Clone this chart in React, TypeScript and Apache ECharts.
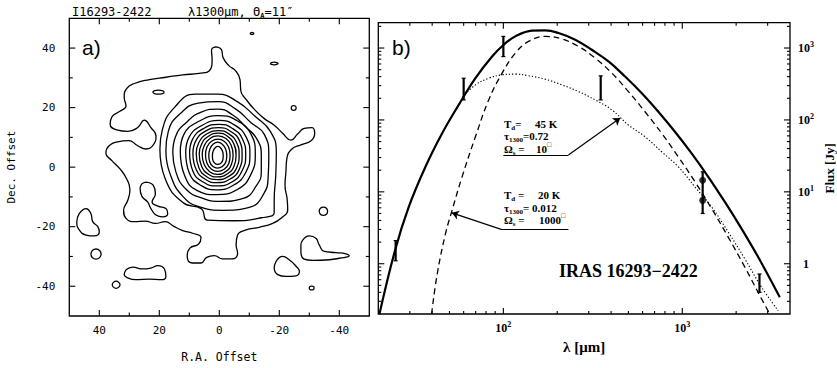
import React, { useEffect, useRef } from 'react';
import * as echarts from 'echarts';

// ---------------- Panel a: 1300 µm contour map (R.A. offset, Dec. offset in arcsec) ----------------
const ring1 = [[2.3,4.0],[2.0,5.5],[1.3,6.6],[0.5,7.0],[-0.3,6.6],[-1.0,5.5],[-1.3,4.0],[-1.2,2.5],[-0.5,1.3],[0.5,0.9],[1.5,1.3],[2.2,2.5]];
const ring2 = [[3.5,4.0],[3.1,6.2],[2.0,7.8],[0.5,8.4],[-1.0,7.7],[-2.1,6.1],[-2.5,3.9],[-2.2,1.8],[-1.0,0.2],[0.6,-0.3],[2.1,0.2],[3.2,1.8]];
const ring3 = [[4.6,4.2],[4.1,6.8],[2.6,8.7],[0.4,9.4],[-1.6,8.7],[-3.1,6.8],[-3.6,4.0],[-3.2,1.3],[-1.6,-0.7],[0.6,-1.4],[2.6,-0.7],[4.1,1.3]];
const ring4 = [[5.7,4.3],[5.0,7.3],[3.1,9.6],[0.4,10.5],[-2.2,9.6],[-4.0,7.3],[-4.6,4.0],[-4.0,0.8],[-2.1,-1.5],[0.6,-2.4],[3.1,-1.6],[5.0,0.8]];
const ring5 = [[6.7,4.4],[5.9,7.8],[3.6,10.4],[0.3,11.4],[-2.7,10.4],[-4.9,7.7],[-5.6,4.1],[-4.9,0.3],[-2.6,-2.3],[0.6,-3.3],[3.6,-2.4],[5.9,0.3]];
const ring6 = [[7.7,4.6],[6.8,8.3],[4.1,11.2],[0.2,12.3],[-3.3,11.1],[-5.8,8.2],[-6.6,4.2],[-5.8,-0.2],[-3.1,-3.1],[0.7,-4.2],[4.2,-3.2],[6.8,-0.2]];
const ring7 = [[8.8,4.6],[7.8,8.9],[4.6,12.1],[0.2,13.3],[-3.8,12.0],[-6.8,8.7],[-7.6,4.2],[-6.7,-0.6],[-3.6,-4.0],[0.8,-5.2],[4.8,-4.0],[7.7,-0.8]];
const ring8 = [[9.9,4.8],[8.9,9.4],[5.2,13.0],[0.1,14.4],[-4.4,13.0],[-7.8,9.3],[-8.8,4.3],[-7.6,-1.2],[-4.2,-5.0],[0.9,-6.3],[5.4,-5.0],[8.8,-1.4]];
const ring9 = [[11.2,5.0],[10.1,10.0],[5.8,14.0],[0.0,15.7],[-5.0,14.2],[-9.0,10.0],[-10.2,4.4],[-8.8,-1.8],[-4.8,-6.0],[1.0,-7.6],[6.0,-6.2],[10.0,-2.0]];
const ring10 = [[13.0,5.2],[11.8,11.0],[6.6,15.5],[0.5,17.3],[-5.6,15.8],[-10.6,11.0],[-12.0,4.5],[-10.5,-2.5],[-6.0,-7.5],[1.0,-9.2],[7.5,-7.8],[11.5,-3.0]];
const ring11 = [[15.5,5],[14.5,10.5],[11,15],[6,18.5],[0.5,19.5],[-4.5,17.5],[-8.8,13.5],[-12.5,9.5],[-14.0,4],[-14,-1.5],[-12.5,-6],[-8,-10.5],[0,-11.5],[5.5,-10.5],[11,-7.5],[14.5,-1.5]];
const ring12 = [[17.8,5.5],[17,12],[13,18],[7,21.5],[0.5,22],[-5.5,19.5],[-10.5,15],[-15,11],[-16.5,4],[-16.3,-3],[-14.8,-9],[-10,-13.5],[-1,-14.5],[6,-13.5],[12,-10],[16.5,-2]];
const ring13 = [[19.8,6],[19,12.5],[15,20],[8,24.5],[0.5,24.5],[-6,22],[-12,17],[-17,12],[-19,5],[-18.8,-3],[-18.3,-11],[-18.3,-15.3],[-14,-17],[-5,-18],[4,-17.8],[6,-14],[12,-12],[18,-4]];
const outerContour = [[1.3,40.4],[-0.7,39.5],[-1.3,36.7],[-3.1,34.2],[-5.6,32.2],[-6.9,29.4],[-7.2,25.5],[-8.9,22.8],[-11.7,19.4],[-15.0,16.3],[-18.3,14.1],[-21.1,11.4],[-23.9,9.1],[-26.1,11.1],[-28.3,13.0],[-30.9,13.3],[-31.8,11.3],[-30.6,8.9],[-27.2,7.5],[-24.2,6.1],[-22.5,2.8],[-22.2,-1.7],[-21.9,-6.1],[-22.6,-10.6],[-22.8,-14.5],[-20.9,-16.9],[-17.8,-18.9],[-13.3,-20.2],[-8.9,-21.1],[-6.1,-22.8],[-5.6,-26.1],[-6.1,-28.9],[-4.2,-30.8],[-1.1,-30.8],[1.7,-29.7],[4.2,-30.3],[6.1,-32.2],[9.1,-32.2],[10.7,-29.8],[9.8,-27.2],[6.9,-25.8],[6.1,-23.6],[8.9,-22.2],[12.2,-21.3],[15.3,-19.8],[18.0,-18.3],[21.3,-18.9],[24.7,-18.1],[28.3,-18.3],[31.1,-17.2],[31.9,-14.5],[30.5,-11.1],[29.8,-7.6],[30.9,-3.9],[33.1,-0.6],[35.8,2.2],[37.8,4.7],[36.9,7.0],[33.9,8.5],[30.2,8.9],[27.2,7.2],[24.4,6.1],[22.0,7.5],[21.1,10.5],[22.8,13.3],[25.0,15.8],[27.2,13.3],[30.5,12.0],[34.2,12.5],[36.4,14.4],[35.8,16.9],[33.3,18.7],[31.1,20.5],[31.7,23.5],[30.9,26.4],[28.3,28.1],[23.3,29.4],[17.8,30.2],[12.2,31.0],[6.7,31.5],[3.3,32.4],[2.4,36.1],[2.6,39.3]];
const lobeLeft = [[46.7,-15.6],[44.4,-13.9],[42.8,-15.6],[42.2,-18.3],[40.5,-20.0],[40.0,-21.7],[41.7,-23.1],[44.4,-22.8],[46.7,-21.1],[47.5,-18.3]];
const blobBottom = [[31.1,-34.5],[28.9,-33.6],[25.5,-34.2],[22.8,-33.9],[20.5,-33.1],[18.3,-34.2],[17.8,-36.7],[19.4,-37.8],[23.3,-37.6],[27.8,-37.8],[30.5,-37.2],[31.7,-36.1]];
const blobBottomRight = [[-18.9,-31.7],[-21.1,-30.0],[-23.3,-31.1],[-25.6,-33.3],[-26.7,-35.0],[-25.6,-36.5],[-22.2,-36.7],[-19.5,-36.1],[-18.3,-33.9]];
const blobRight = [[-27.8,-24.5],[-30.0,-23.1],[-32.2,-23.9],[-33.3,-26.1],[-35.0,-28.3],[-38.9,-28.7],[-42.2,-29.1],[-43.3,-29.8],[-40.0,-30.6],[-36.7,-31.1],[-31.1,-31.3],[-28.3,-30.9],[-27.2,-28.3],[-27.2,-26.1]];
const figureEight = [[24.4,-5.0],[22.0,-6.1],[21.3,-8.9],[22.4,-11.7],[20.5,-13.1],[17.8,-13.9],[17.2,-15.6],[18.9,-16.7],[21.1,-16.1],[22.8,-13.9],[23.9,-11.7],[25.8,-9.8],[26.4,-7.2],[25.8,-5.6]];
const islet1 = [[-10.3,44.9],[-10.5,45.15],[-10.9,45.25],[-11.3,45.15],[-11.5,44.9],[-11.3,44.65],[-10.9,44.55],[-10.5,44.65]];
const islet2 = [[-17.0,34.8],[-17.4,35.1],[-18.3,35.25],[-19.2,35.1],[-19.6,34.8],[-19.2,34.5],[-18.3,34.35],[-17.4,34.5]];
const islet3 = [[22.2,25.2],[21.6,25.7],[20.3,25.9],[19.0,25.7],[18.4,25.2],[19.0,24.7],[20.3,24.5],[21.6,24.7]];
const islet4 = [[-24.0,19.9],[-24.2,20.5],[-24.8,20.7],[-25.4,20.5],[-25.6,19.9],[-25.4,19.3],[-24.8,19.1],[-24.2,19.3]];
const islet5 = [[-33.3,-14.8],[-33.7,-13.8],[-34.7,-13.4],[-35.7,-13.8],[-36.1,-14.8],[-35.7,-15.8],[-34.7,-16.2],[-33.7,-15.8]];
const islet6 = [[42.8,-29.2],[42.3,-28.0],[41.1,-27.5],[39.9,-28.0],[39.4,-29.2],[39.9,-30.4],[41.1,-30.9],[42.3,-30.4]];
const islet7 = [[35.7,-39.5],[35.3,-38.7],[34.4,-38.3],[33.5,-38.7],[33.1,-39.5],[33.5,-40.3],[34.4,-40.7],[35.3,-40.3]];
const islet8 = [[-30.0,-40.6],[-30.2,-40.1],[-30.8,-39.95],[-31.4,-40.1],[-31.6,-40.6],[-31.4,-41.1],[-30.8,-41.25],[-30.2,-41.1]];

const contours = [outerContour, ring13, ring12, ring11, ring10, ring9, ring8, ring7, ring6, ring5, ring4, ring3, ring2, ring1,
  lobeLeft, blobBottom, blobBottomRight, blobRight, figureEight, islet1, islet2, islet3, islet4, islet5, islet6, islet7, islet8];

const raTicks = [-40, -30, -20, -10, 0, 10, 20, 30, 40];
const decTicks = [-40, -30, -20, -10, 0, 10, 20, 30, 40];

// ---------------- Panel b: spectral energy distribution ----------------
const lamSolid = [20.3, 24.8, 29.6, 36.7, 45.5, 56.3, 69.8, 86.5, 100.4, 116.7, 144.6, 171.5, 203.3, 252, 312, 387, 479, 594, 735, 910, 1128, 1397, 1730, 2143, 2655, 3508];
const fluxSolid = [0.2, 1.53, 6.16, 22.3, 65.2, 162, 381, 763, 1112, 1452, 1742, 1759, 1618, 1306, 946, 650, 401, 235, 130, 68.6, 34.3, 16.2, 7.23, 3.08, 1.24, 0.342];
const lamDash = [39.7, 42.7, 47.5, 51.7, 58.8, 69.8, 82.8, 98.4, 116.7, 138.4, 171.5, 212.5, 263, 326, 404, 500, 619, 767, 950, 1178, 1459, 1806, 2237, 2773, 3085];
const fluxDash = [0.2, 0.725, 2.62, 5.54, 16.2, 58.4, 190, 448, 851, 1236, 1452, 1335, 1052, 725, 448, 248, 130, 65.2, 30.7, 13.8, 5.85, 2.35, 0.897, 0.325, 0.2];
const lamDot = [59.3, 69.8, 82.8, 98.4, 116.7, 138.4, 171.5, 212.5, 263, 326, 404, 500, 619, 767, 950, 1178, 1459, 1806, 2237, 2773, 3436];
const fluxDot = [211, 307, 381, 424, 434, 411, 369, 307, 248, 190, 138, 85.1, 58.4, 36.1, 22.3, 11.7, 6.16, 2.76, 1.17, 0.472, 0.223];

const obsLam = [25, 60, 100, 350, 1300, 2700];
const obsLo = [1.1, 190, 760, 190, 5.0, 0.40];
const obsHi = [2.1, 380, 1450, 410, 19, 0.72];
const dotLam = [1300, 1300];
const dotFlux = [14.5, 7.6];

const lamMajor = [100, 1000];
const lamMinor = [30, 40, 50, 60, 70, 80, 90, 200, 300, 400, 500, 600, 700, 800, 900, 2000, 3000];
const fluxMajor = [1, 10, 100, 1000];
const fluxMinor = [0.3, 0.4, 0.5, 0.6, 0.7, 0.8, 0.9, 2, 3, 4, 5, 6, 7, 8, 9, 20, 30, 40, 50, 60, 70, 80, 90, 200, 300, 400, 500, 600, 700, 800, 900, 2000];

// annotation anchors (λ, flux)
const note45Under = [[100, 32.5], [231, 32.5]];
const note45Arrow = [[231, 32.5], [450, 106]];
const note20Under = [[98.3, 2.98], [231, 2.98]];
const note20Arrow = [[98.3, 2.98], [51.5, 5.1]];

const LAM_MIN = 20, LAM_MAX = 4000, F_MIN = 0.2, F_MAX = 2250;

const MONO = '"DejaVu Sans Mono", monospace';
const SERIF = '"Liberation Serif", "Times New Roman", serif';
const NARROW = '"Liberation Sans Narrow", "Liberation Sans", sans-serif';

function seg(x1: number, y1: number, x2: number, y2: number, w = 1.1) {
  return { type: 'line', shape: { x1, y1, x2, y2 }, style: { stroke: '#000', lineWidth: w } };
}

function logFmt(v: number) {
  const lv = Math.log10(v);
  const e = Math.round(lv);
  if (Math.abs(lv - e) > 1e-6) return '';
  if (e === 0) return '1';
  return '10{sup|' + e + '}';
}

function aFmt(v: number) {
  if (Math.abs(v) % 20 !== 0 || Math.abs(v) === 50) return '';
  return v < 0 ? '-' + (-v) : String(v);
}

function buildOption(): any {
  const supRich = { sup: { fontFamily: SERIF, fontWeight: 'bold', fontSize: 8, color: '#000', verticalAlign: 'top' } };
  const contourSeries = contours.map((c) => ({
    type: 'line', xAxisIndex: 0, yAxisIndex: 0, data: [...c, c[0]], smooth: 0.5, symbol: 'none', silent: true,
    lineStyle: { color: '#000', width: 1.3 }, clip: true,
  }));
  const richSmall = (fam: string) => ({
    sub: { fontFamily: fam, fontWeight: 'bold', fontSize: 7, fill: '#000', verticalAlign: 'bottom' },
    sup: { fontFamily: fam, fontWeight: 'bold', fontSize: 7, fill: '#000', verticalAlign: 'top' },
  });
  const note = (x: number, y: number, text: string) => ({
    type: 'text', x, y, silent: true,
    style: { text, fontFamily: SERIF, fontWeight: 'bold', fontSize: 11, lineHeight: 15, fill: '#000', verticalAlign: 'middle', rich: richSmall(SERIF) },
  });
  return {
    animation: false,
    backgroundColor: '#fff',
    grid: [
      { left: 69.3, top: 18.3, width: 300, height: 300, show: true, borderColor: '#000', borderWidth: 1.3, backgroundColor: 'transparent' },
      { left: 378.3, top: 22.7, width: 413.4, height: 291.3, show: true, borderColor: '#000', borderWidth: 1.3, backgroundColor: 'transparent' },
    ],
    xAxis: [
      {
        gridIndex: 0, type: 'value', min: -50, max: 50, interval: 10, inverse: true, position: 'bottom',
        axisLine: { show: false }, axisTick: { show: false }, splitLine: { show: false },
        axisLabel: { formatter: aFmt, margin: 9, color: '#000', fontFamily: MONO, fontSize: 11 },
        name: 'R.A. Offset', nameLocation: 'middle', nameGap: 35,
        nameTextStyle: { color: '#000', fontFamily: MONO, fontSize: 11.5 },
      },
      {
        gridIndex: 1, type: 'log', logBase: 10, min: LAM_MIN, max: LAM_MAX, position: 'bottom',
        axisLine: { show: false }, axisTick: { show: false }, splitLine: { show: false }, minorTick: { show: false },
        axisLabel: { formatter: logFmt, margin: 6, color: '#000', fontFamily: SERIF, fontWeight: 'bold', fontSize: 12, lineHeight: 15, rich: supRich, showMinLabel: false, showMaxLabel: false },
        name: 'λ [μm]', nameLocation: 'middle', nameGap: 20,
        nameTextStyle: { color: '#000', fontFamily: SERIF, fontWeight: 'bold', fontSize: 15 },
      },
    ],
    yAxis: [
      {
        gridIndex: 0, type: 'value', min: -50, max: 50, interval: 10, position: 'left',
        axisLine: { show: false }, axisTick: { show: false }, splitLine: { show: false },
        axisLabel: { formatter: aFmt, margin: 14, color: '#000', fontFamily: MONO, fontSize: 11 },
        name: 'Dec. Offset', nameLocation: 'middle', nameGap: 52, nameRotate: 90,
        nameTextStyle: { color: '#000', fontFamily: MONO, fontSize: 11 },
      },
      {
        gridIndex: 1, type: 'log', logBase: 10, min: F_MIN, max: F_MAX, position: 'right',
        axisLine: { show: false }, axisTick: { show: false }, splitLine: { show: false }, minorTick: { show: false },
        axisLabel: { formatter: logFmt, margin: 16, align: 'center', color: '#000', fontFamily: SERIF, fontWeight: 'bold', fontSize: 12, lineHeight: 15, rich: supRich, showMinLabel: false, showMaxLabel: false },
        name: 'Flux [Jy]', nameLocation: 'middle', nameGap: 33, nameRotate: 90,
        nameTextStyle: { color: '#000', fontFamily: SERIF, fontWeight: 'bold', fontSize: 13 },
      },
    ],
    graphic: [
      { type: 'text', x: 72, y: 12, silent: true, style: { text: 'I16293-2422', fontFamily: MONO, fontSize: 12, fill: '#000', verticalAlign: 'middle' } },
      { type: 'text', x: 188, y: 12, silent: true, style: { text: 'λ1300μm, Θ{sub|A}=11″', fontFamily: MONO, fontSize: 12, lineHeight: 15, fill: '#000', verticalAlign: 'middle', rich: richSmall(MONO) } },
      { type: 'text', x: 82, y: 47, silent: true, style: { text: 'a)', fontFamily: NARROW, fontSize: 21, fill: '#000', verticalAlign: 'middle' } },
      { type: 'text', x: 392, y: 47, silent: true, style: { text: 'b)', fontFamily: NARROW, fontSize: 21, fill: '#000', verticalAlign: 'middle' } },
      note(504, 123.5, 'T{sub|d}='), note(535, 123.5, '45 K'),
      note(504, 136, 'τ{sub|1300}=0.72'),
      note(504, 148.5, 'Ω{sub|s} ='), note(536, 148.5, '10{sup|□}'),
      note(504, 195, 'T{sub|d} ='), note(538, 195, '20 K'),
      note(504, 207.5, 'τ{sub|1300}= 0.012'),
      note(504, 220, 'Ω{sub|s} ='), note(539, 220, '1000{sup|□}'),
      { type: 'text', x: 559, y: 271, silent: true, style: { text: 'IRAS 16293−2422', fontFamily: SERIF, fontWeight: 'bold', fontSize: 18, fill: '#000', verticalAlign: 'middle' } },
    ],
    series: [
      ...contourSeries,
      // panel a ticks
      {
        type: 'custom', xAxisIndex: 0, yAxisIndex: 0, silent: true,
        data: raTicks.map((v) => [v, 0]),
        renderItem: (_p: any, api: any) => {
          const v = api.value(0);
          const len = Math.abs(v) % 20 === 0 ? 6 : 3.5;
          const b = api.coord([v, -50]);
          const t = api.coord([v, 50]);
          return { type: 'group', children: [seg(b[0], b[1], b[0], b[1] - len), seg(t[0], t[1], t[0], t[1] + len)] };
        },
      },
      {
        type: 'custom', xAxisIndex: 0, yAxisIndex: 0, silent: true,
        data: decTicks.map((v) => [0, v]),
        renderItem: (_p: any, api: any) => {
          const v = api.value(1);
          const len = Math.abs(v) % 20 === 0 ? 6 : 3.5;
          const l = api.coord([50, v]);
          const r = api.coord([-50, v]);
          return { type: 'group', children: [seg(l[0], l[1], l[0] + len, l[1]), seg(r[0], r[1], r[0] - len, r[1])] };
        },
      },
      // panel b ticks
      {
        type: 'custom', xAxisIndex: 1, yAxisIndex: 1, silent: true,
        data: [...lamMajor.map((v) => [v, 1, 1]), ...lamMinor.map((v) => [v, 1, 0])],
        renderItem: (_p: any, api: any) => {
          const v = api.value(0);
          const len = api.value(2) ? 6 : 3;
          const b = api.coord([v, F_MIN]);
          const t = api.coord([v, F_MAX]);
          return { type: 'group', children: [seg(b[0], b[1], b[0], b[1] - len), seg(t[0], t[1], t[0], t[1] + len)] };
        },
      },
      {
        type: 'custom', xAxisIndex: 1, yAxisIndex: 1, silent: true,
        data: [...fluxMajor.map((v) => [100, v, 1]), ...fluxMinor.map((v) => [100, v, 0])],
        renderItem: (_p: any, api: any) => {
          const v = api.value(1);
          const len = api.value(2) ? 6 : 3;
          const l = api.coord([LAM_MIN, v]);
          const r = api.coord([LAM_MAX, v]);
          return { type: 'group', children: [seg(l[0], l[1], l[0] + len, l[1]), seg(r[0], r[1], r[0] - len, r[1])] };
        },
      },
      // model curves
      {
        type: 'line', name: 'total', xAxisIndex: 1, yAxisIndex: 1, smooth: 0.4, symbol: 'none', silent: true, clip: true,
        data: lamSolid.map((l, i) => [l, fluxSolid[i]]), lineStyle: { color: '#000', width: 2.2 },
      },
      {
        type: 'line', name: '20 K', xAxisIndex: 1, yAxisIndex: 1, smooth: 0.4, symbol: 'none', silent: true, clip: true,
        data: lamDash.map((l, i) => [l, fluxDash[i]]), lineStyle: { color: '#000', width: 1.3, type: [6, 4] },
      },
      {
        type: 'line', name: '45 K', xAxisIndex: 1, yAxisIndex: 1, smooth: 0.4, symbol: 'none', silent: true, clip: true,
        data: lamDot.map((l, i) => [l, fluxDot[i]]), lineStyle: { color: '#000', width: 1.1, type: [1.3, 2] },
      },
      // observations
      {
        type: 'custom', xAxisIndex: 1, yAxisIndex: 1, silent: true,
        data: obsLam.map((l, i) => [l, obsLo[i], obsHi[i]]),
        renderItem: (_p: any, api: any) => {
          const lo = api.coord([api.value(0), api.value(1)]);
          const hi = api.coord([api.value(0), api.value(2)]);
          return {
            type: 'group',
            children: [
              seg(lo[0], lo[1], hi[0], hi[1], 2.2),
              seg(lo[0] - 2, lo[1], lo[0] + 2, lo[1], 1.2),
              seg(hi[0] - 2, hi[1], hi[0] + 2, hi[1], 1.2),
            ],
          };
        },
      },
      {
        type: 'scatter', xAxisIndex: 1, yAxisIndex: 1, silent: true, symbol: 'circle', symbolSize: 7,
        itemStyle: { color: '#000' }, data: dotLam.map((l, i) => [l, dotFlux[i]]),
      },
      // annotation leaders
      {
        type: 'line', xAxisIndex: 1, yAxisIndex: 1, silent: true, symbol: 'none', data: [[100, 1]], lineStyle: { opacity: 0 },
        markLine: {
          silent: true, symbol: ['none', 'none'], label: { show: false }, lineStyle: { color: '#000', type: 'solid', width: 1.2 },
          data: [
            [{ coord: note45Under[0] }, { coord: note45Under[1] }],
            [{ coord: note20Under[0] }, { coord: note20Under[1] }],
          ],
        },
      },
      {
        type: 'line', xAxisIndex: 1, yAxisIndex: 1, silent: true, symbol: 'none', data: [[100, 1]], lineStyle: { opacity: 0 },
        markLine: {
          silent: true, symbol: ['none', 'arrow'], symbolSize: 7, label: { show: false }, lineStyle: { color: '#000', type: 'solid', width: 1.2 },
          data: [
            [{ coord: note45Arrow[0] }, { coord: note45Arrow[1] }],
            [{ coord: note20Arrow[0] }, { coord: note20Arrow[1] }],
          ],
        },
      },
    ],
  };
}

export default function App() {
  const ref = useRef<HTMLDivElement>(null);
  useEffect(() => {
    if (!ref.current) return;
    const chart = echarts.init(ref.current, null, { renderer: 'svg' });
    chart.setOption(buildOption());
    return () => chart.dispose();
  }, []);
  return <div ref={ref} style={{ position: 'absolute', left: 0, top: 0, width: 837, height: 368, background: '#fff' }} />;
}
